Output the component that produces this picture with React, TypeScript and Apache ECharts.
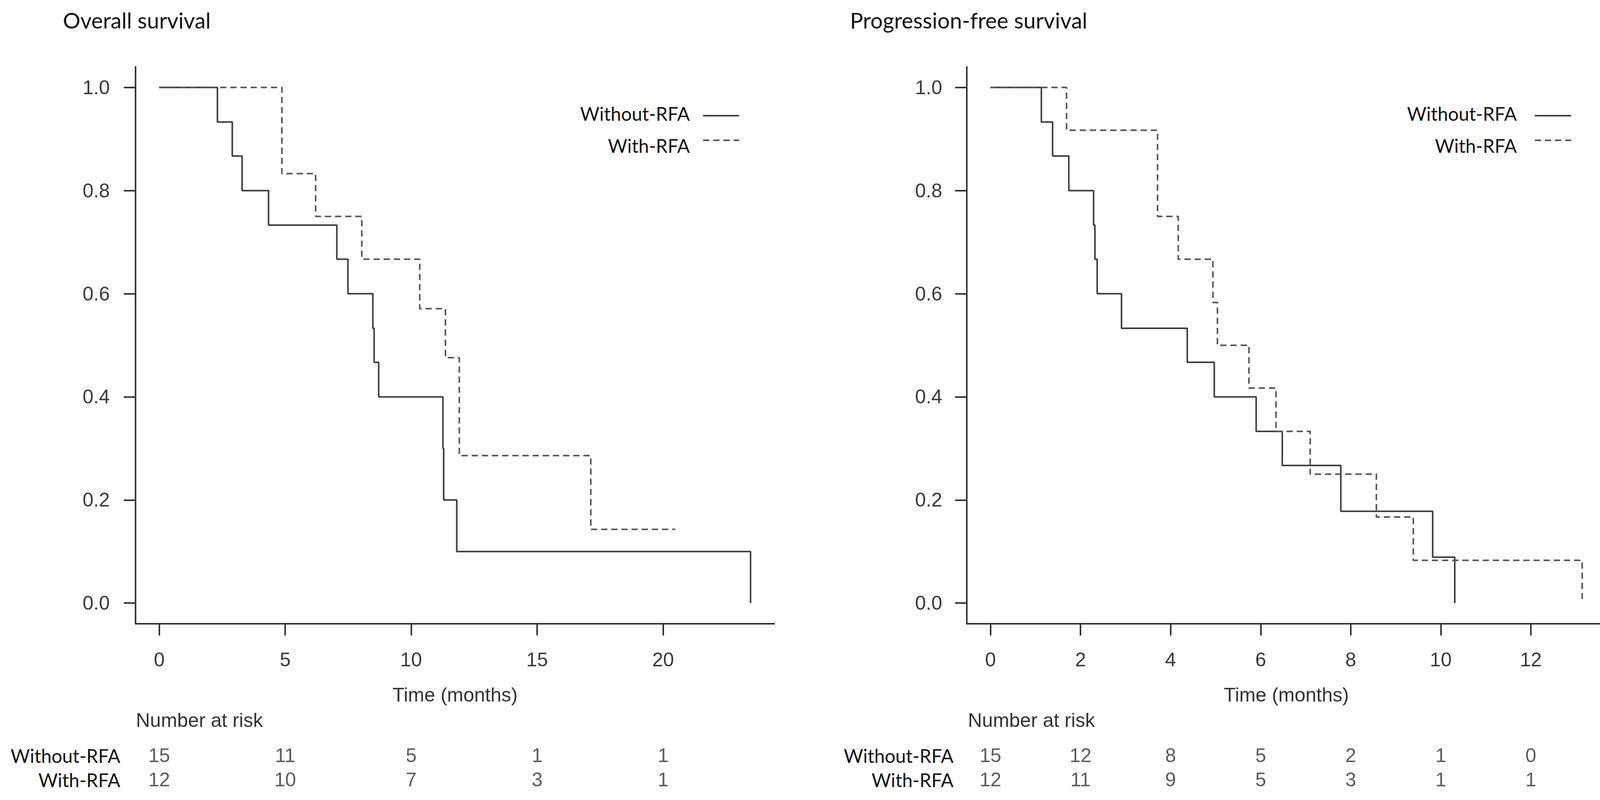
import React, { useEffect, useRef } from "react";
import * as echarts from "echarts";

// ---- data ----
const survTicks = [0, 0.2, 0.4, 0.6, 0.8, 1.0];
const osTicks = [0, 5, 10, 15, 20];
const pfsTicks = [0, 2, 4, 6, 8, 10, 12];
const groupNames = ["Without-RFA", "With-RFA"];

const osMaxTime = 23.47;
const pfsMaxTime = 13.14;

const osWithoutTime = [0, 2.31, 2.9, 3.29, 4.34, 7.05, 7.49, 8.48, 8.53, 8.71, 11.26, 11.29, 11.81, 23.47];
const osWithoutSurv = [1, 0.933, 0.867, 0.8, 0.733, 0.667, 0.6, 0.533, 0.467, 0.4, 0.3, 0.2, 0.1, 0];
const osWithTime = [0, 4.87, 6.21, 8.04, 10.34, 11.36, 11.91, 17.13, 20.48];
const osWithSurv = [1, 0.833, 0.75, 0.667, 0.571, 0.476, 0.286, 0.143, 0.143];

const pfsWithoutTime = [0, 1.13, 1.38, 1.74, 2.29, 2.32, 2.37, 2.91, 4.37, 4.97, 5.9, 6.48, 7.78, 9.82, 10.31];
const pfsWithoutSurv = [1, 0.933, 0.867, 0.8, 0.733, 0.667, 0.6, 0.533, 0.467, 0.4, 0.333, 0.267, 0.178, 0.089, 0];
const pfsWithTime = [0, 1.69, 3.71, 4.17, 4.94, 5.04, 5.74, 6.34, 7.1, 8.57, 9.39, 13.14];
const pfsWithSurv = [1, 0.917, 0.75, 0.667, 0.583, 0.5, 0.417, 0.333, 0.25, 0.167, 0.083, 0];

const osRiskWithout = [15, 11, 5, 1, 1];
const osRiskWith = [12, 10, 7, 3, 1];
const pfsRiskWithout = [15, 12, 8, 5, 2, 1, 0];
const pfsRiskWith = [12, 11, 9, 5, 3, 1, 1];

// ---- styles ----
const ARIAL = "Liberation Sans, Arial, sans-serif";
const CALIBRI = "Lato, Open Sans, sans-serif";
const AXIS_COLOR = "#333";
const SOLID = { color: "#3d3d3d", width: 4 };
const DASHED = { color: "#555", width: 4, type: [16, 10] as number[] };

function pair(t: number[], s: number[]) {
  return t.map((x, i) => [x, s[i]]);
}

function mainX(gridIndex: number, T: number, ticks: number[]) {
  return {
    type: "value",
    gridIndex,
    min: -0.04 * T,
    max: 1.04 * T,
    axisLine: { show: true, onZero: false, lineStyle: { color: AXIS_COLOR, width: 4 } },
    axisTick: { show: true, customValues: ticks, length: 30, lineStyle: { color: AXIS_COLOR, width: 4 } },
    axisLabel: { show: true, customValues: ticks, margin: 67, fontSize: 50, fontFamily: ARIAL, color: "#3a3a3a" },
    splitLine: { show: false },
  };
}

function riskX(gridIndex: number, T: number) {
  return {
    type: "value",
    gridIndex,
    min: -0.04 * T,
    max: 1.04 * T,
    show: false,
    splitLine: { show: false },
  };
}

function mainY(gridIndex: number, margin: number) {
  return {
    type: "value",
    gridIndex,
    min: -0.04,
    max: 1.04,
    axisLine: { show: true, onZero: false, lineStyle: { color: AXIS_COLOR, width: 4 } },
    axisTick: { show: true, customValues: survTicks, length: 30, lineStyle: { color: AXIS_COLOR, width: 4 } },
    axisLabel: {
      show: true,
      customValues: survTicks,
      margin,
      fontSize: 50,
      fontFamily: ARIAL,
      color: "#3a3a3a",
      formatter: (v: number) => v.toFixed(1),
    },
    splitLine: { show: false },
  };
}

function riskY(gridIndex: number, margin: number) {
  return {
    type: "category",
    gridIndex,
    data: groupNames,
    inverse: true,
    axisLine: { show: false },
    axisTick: { show: false },
    splitLine: { show: false },
    axisLabel: { show: true, interval: 0, hideOverlap: false, margin, fontSize: 48, fontFamily: CALIBRI, color: "#111" },
  };
}

function riskSeries(axisIndex: number, ticks: number[], without: number[], withR: number[]) {
  const data = [
    ...ticks.map((t, i) => [t, 0, without[i]]),
    ...ticks.map((t, i) => [t, 1, withR[i]]),
  ];
  return {
    type: "scatter",
    xAxisIndex: axisIndex,
    yAxisIndex: axisIndex,
    symbolSize: 1,
    silent: true,
    itemStyle: { color: "rgba(0,0,0,0)" },
    label: {
      show: true,
      position: "inside",
      formatter: (p: any) => String(p.value[2]),
      fontSize: 50,
      fontFamily: ARIAL,
      color: "#333",
    },
    data,
  };
}

function legendGraphics(textRight: number, lineX1: number, lineX2: number) {
  return [
    {
      type: "text",
      style: { x: textRight, y: 290, text: groupNames[0], font: `48px ${CALIBRI}`, fill: "#111", align: "right", verticalAlign: "middle" },
    },
    {
      type: "text",
      style: { x: textRight, y: 372, text: groupNames[1], font: `48px ${CALIBRI}`, fill: "#111", align: "right", verticalAlign: "middle" },
    },
    {
      type: "line",
      shape: { x1: lineX1, y1: 296, x2: lineX2, y2: 296 },
      style: { stroke: SOLID.color, lineWidth: SOLID.width },
    },
    {
      type: "line",
      shape: { x1: lineX1, y1: 359, x2: lineX2, y2: 359 },
      style: { stroke: DASHED.color, lineWidth: DASHED.width, lineDash: DASHED.type },
    },
  ];
}

function textEl(x: number, y: number, text: string, font: string, align: string, fill: string) {
  return { type: "text", style: { x, y, text, font, fill, align, verticalAlign: "middle" } };
}

export default function App() {
  const ref = useRef<HTMLDivElement>(null);

  useEffect(() => {
    if (!ref.current) return;
    const chart = echarts.init(ref.current, null, { renderer: "svg" });
    const option: any = {
      animation: false,
      backgroundColor: "#fff",
      grid: [
        { left: 347, top: 171, width: 1635, height: 1425 },
        { left: 2475, top: 171, width: 1636, height: 1425 },
        { left: 347, top: 1902, width: 1635, height: 124 },
        { left: 2475, top: 1902, width: 1636, height: 124 },
      ],
      xAxis: [
        mainX(0, osMaxTime, osTicks),
        mainX(1, pfsMaxTime, pfsTicks),
        riskX(2, osMaxTime),
        riskX(3, pfsMaxTime),
      ],
      yAxis: [mainY(0, 66), mainY(1, 63), riskY(2, 39), riskY(3, 34)],
      series: [
        { type: "line", name: "OS Without-RFA", xAxisIndex: 0, yAxisIndex: 0, step: "end", symbol: "none", showSymbol: false, lineStyle: SOLID, data: pair(osWithoutTime, osWithoutSurv) },
        { type: "line", name: "OS With-RFA", xAxisIndex: 0, yAxisIndex: 0, step: "end", symbol: "none", showSymbol: false, lineStyle: DASHED, data: pair(osWithTime, osWithSurv) },
        { type: "line", name: "PFS Without-RFA", xAxisIndex: 1, yAxisIndex: 1, step: "end", symbol: "none", showSymbol: false, lineStyle: SOLID, data: pair(pfsWithoutTime, pfsWithoutSurv) },
        { type: "line", name: "PFS With-RFA", xAxisIndex: 1, yAxisIndex: 1, step: "end", symbol: "none", showSymbol: false, lineStyle: DASHED, data: pair(pfsWithTime, pfsWithSurv) },
        riskSeries(2, osTicks, osRiskWithout, osRiskWith),
        riskSeries(3, pfsTicks, pfsRiskWithout, pfsRiskWith),
      ],
      graphic: [
        textEl(161, 51, "Overall survival", `56px ${CALIBRI}`, "left", "#111"),
        textEl(2176, 51, "Progression-free survival", `56px ${CALIBRI}`, "left", "#111"),
        textEl(1165, 1778, "Time (months)", `50px ${ARIAL}`, "center", "#333"),
        textEl(3293, 1778, "Time (months)", `50px ${ARIAL}`, "center", "#333"),
        textEl(348, 1843, "Number at risk", `50px ${ARIAL}`, "left", "#333"),
        textEl(2478, 1843, "Number at risk", `50px ${ARIAL}`, "left", "#333"),
        ...legendGraphics(1766, 1800, 1892),
        ...legendGraphics(3883, 3929, 4022),
      ],
    };
    chart.setOption(option);
    return () => chart.dispose();
  }, []);

  return (
    <div
      ref={ref}
      style={{ position: "fixed", left: 0, top: 0, width: 4128, height: 2047, background: "#fff" }}
    />
  );
}
